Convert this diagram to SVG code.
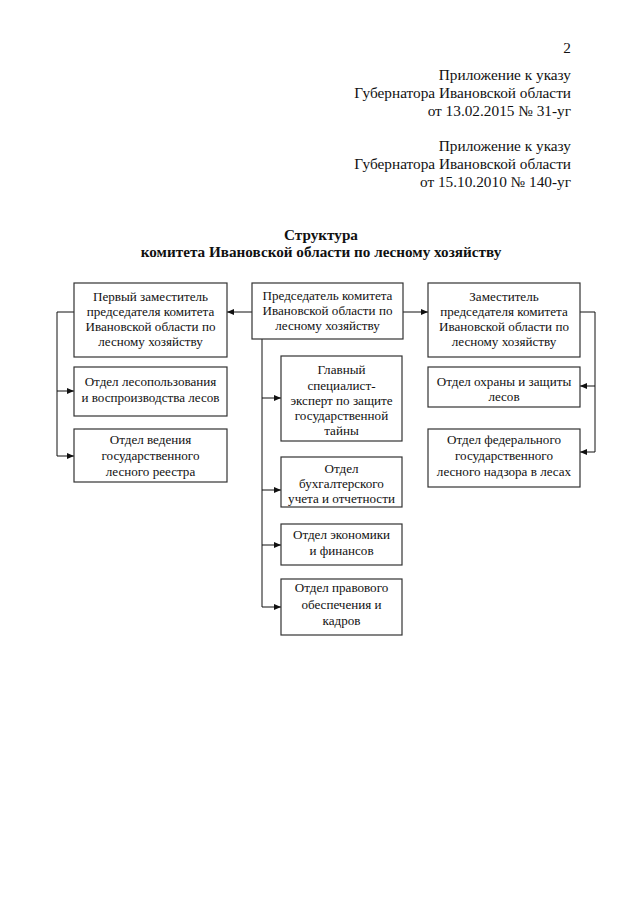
<svg xmlns="http://www.w3.org/2000/svg" width="640" height="905" viewBox="0 0 640 905">
<defs>
<marker id="ah" markerWidth="7" markerHeight="6" refX="7" refY="3" orient="auto" markerUnits="userSpaceOnUse">
<path d="M0,0 L7,3 L0,6 Z" fill="#111"/>
</marker>
<style>
.t{font-family:"Liberation Serif","Times New Roman",serif;fill:#111}
.hd{font-size:15.3px;text-anchor:end}
.ti{font-size:15.2px;font-weight:bold;text-anchor:middle}
.bx{font-size:13.1px;text-anchor:middle}
.box{fill:#fff;stroke:#333;stroke-width:1.2}
.ln{fill:none;stroke:#111;stroke-width:1}
</style>
</defs>
<rect width="640" height="905" fill="#fff"/>
<g id="header">
<text class="t hd" x="571" y="53">2</text>
<text class="t hd" x="571" y="80">Приложение к указу</text>
<text class="t hd" x="571" y="98">Губернатора Ивановской области</text>
<text class="t hd" x="571" y="116">от 13.02.2015 № 31-уг</text>
<text class="t hd" x="571" y="151">Приложение к указу</text>
<text class="t hd" x="571" y="169">Губернатора Ивановской области</text>
<text class="t hd" x="571" y="187">от 15.10.2010 № 140-уг</text>
</g>
<g id="title">
<text class="t ti" x="321" y="240">Структура</text>
<text class="t ti" x="321" y="257">комитета Ивановской области по лесному хозяйству</text>
</g>
<g id="connectors">
<path class="ln" d="M252,312 H227" marker-end="url(#ah)"/>
<path class="ln" d="M403,312 H428" marker-end="url(#ah)"/>
<path class="ln" d="M74,312 H57 V456"/>
<path class="ln" d="M57,391 H74" marker-end="url(#ah)"/>
<path class="ln" d="M57,456 H74" marker-end="url(#ah)"/>
<path class="ln" d="M580,312 H595 V452"/>
<path class="ln" d="M595,386 H580" marker-end="url(#ah)"/>
<path class="ln" d="M595,452 H580" marker-end="url(#ah)"/>
<path class="ln" d="M262,339 V607"/>
<path class="ln" d="M262,398 H281" marker-end="url(#ah)"/>
<path class="ln" d="M262,490 H281" marker-end="url(#ah)"/>
<path class="ln" d="M262,545 H281" marker-end="url(#ah)"/>
<path class="ln" d="M262,607 H281" marker-end="url(#ah)"/>
</g>
<g id="chair">
<rect class="box" x="252" y="283" width="151" height="56"/>
<text class="t bx" x="327.5" y="300">Председатель комитета</text>
<text class="t bx" x="327.5" y="315">Ивановской области по</text>
<text class="t bx" x="327.5" y="330">лесному хозяйству</text>
</g>
<g id="first-deputy">
<rect class="box" x="74" y="283" width="153" height="74"/>
<text class="t bx" x="150.5" y="301">Первый заместитель</text>
<text class="t bx" x="150.5" y="316">председателя комитета</text>
<text class="t bx" x="150.5" y="331">Ивановской области по</text>
<text class="t bx" x="150.5" y="346">лесному хозяйству</text>
</g>
<g id="deputy">
<rect class="box" x="428" y="283" width="152" height="74"/>
<text class="t bx" x="504" y="301">Заместитель</text>
<text class="t bx" x="504" y="316">председателя комитета</text>
<text class="t bx" x="504" y="331">Ивановской области по</text>
<text class="t bx" x="504" y="346">лесному хозяйству</text>
</g>
<g id="dept-forest-use">
<rect class="box" x="74" y="367" width="153" height="49"/>
<text class="t bx" x="150.5" y="386">Отдел лесопользования</text>
<text class="t bx" x="150.5" y="402">и воспроизводства лесов</text>
</g>
<g id="dept-registry">
<rect class="box" x="74" y="429" width="153" height="53"/>
<text class="t bx" x="150.5" y="444">Отдел ведения</text>
<text class="t bx" x="150.5" y="460">государственного</text>
<text class="t bx" x="150.5" y="476">лесного реестра</text>
</g>
<g id="dept-protection">
<rect class="box" x="428" y="367" width="152" height="40"/>
<text class="t bx" x="504" y="386">Отдел охраны и защиты</text>
<text class="t bx" x="504" y="401">лесов</text>
</g>
<g id="dept-supervision">
<rect class="box" x="428" y="429" width="152" height="58"/>
<text class="t bx" x="504" y="444">Отдел федерального</text>
<text class="t bx" x="504" y="460">государственного</text>
<text class="t bx" x="504" y="476">лесного надзора в лесах</text>
</g>
<g id="chief-specialist">
<rect class="box" x="281" y="356" width="121" height="85"/>
<text class="t bx" x="341.5" y="374">Главный</text>
<text class="t bx" x="341.5" y="390">специалист-</text>
<text class="t bx" x="341.5" y="405">эксперт по защите</text>
<text class="t bx" x="341.5" y="420">государственной</text>
<text class="t bx" x="341.5" y="435">тайны</text>
</g>
<g id="dept-accounting">
<rect class="box" x="281" y="457" width="121" height="50"/>
<text class="t bx" x="341.5" y="473">Отдел</text>
<text class="t bx" x="341.5" y="488">бухгалтерского</text>
<text class="t bx" x="341.5" y="503">учета и отчетности</text>
</g>
<g id="dept-economy">
<rect class="box" x="281" y="524" width="121" height="41"/>
<text class="t bx" x="341.5" y="539">Отдел экономики</text>
<text class="t bx" x="341.5" y="555">и финансов</text>
</g>
<g id="dept-legal">
<rect class="box" x="281" y="579" width="121" height="56"/>
<text class="t bx" x="341.5" y="592">Отдел правового</text>
<text class="t bx" x="341.5" y="609">обеспечения и</text>
<text class="t bx" x="341.5" y="625">кадров</text>
</g>
</svg>
